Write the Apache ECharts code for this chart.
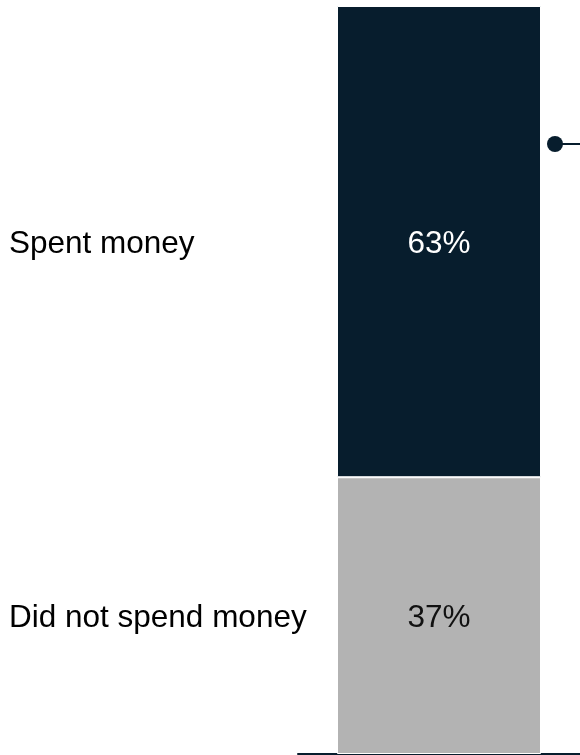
<!DOCTYPE html>
<html>
<head>
<meta charset="utf-8">
<script src="https://cdn.jsdelivr.net/npm/echarts@6/dist/echarts.min.js"></script>
<style>
  html, body { margin: 0; padding: 0; background: #fff; }
  #main { width: 580px; height: 755px; }
</style>
</head>
<body>
<div id="main"></div>
<script>
  // data
  const categories = ['Spent money', 'Did not spend money'];
  const shares = [63, 37];
  const colors = ['#071d2d', '#b3b3b3'];
  const textColors = ['#ffffff', '#111111'];

  let myChart = echarts.init(document.getElementById('main'));

  // one stacked bar, top segment first
  let series = categories.map(function (name, i) {
    return {
      name: name,
      type: 'bar',
      stack: 'total',
      barWidth: 204,
      data: [shares[i]],
      z: 2 - i,
      itemStyle: { color: colors[i], borderColor: '#fff', borderWidth: 1 },
      label: {
        show: true,
        position: [-328, '50%'],
        offset: [0, 3],
        verticalAlign: 'middle',
        align: 'left',
        formatter: function (p) {
          return '{n|' + p.seriesName + '}{v|' + p.value + '%}';
        },
        rich: {
          n: { width: 328, align: 'left', fontSize: 31.5, color: '#000', fontFamily: 'Liberation Sans' },
          v: { width: 204, align: 'center', fontSize: 31.5, color: textColors[i], fontFamily: 'Liberation Sans' }
        }
      }
    };
  });
  // stacking order: bottom segment goes first
  series.reverse();

  let option = {
    animation: false,
    grid: { left: 298, right: 0, top: 6, bottom: 1 },
    xAxis: {
      type: 'category',
      data: [''],
      axisLine: { show: true, lineStyle: { color: '#071d2d', width: 2 } },
      axisTick: { show: false },
      axisLabel: { show: false }
    },
    yAxis: { type: 'value', min: 0, max: 100, show: false },
    graphic: [
      { type: 'line', shape: { x1: 555, y1: 144, x2: 580, y2: 144 }, style: { stroke: '#071d2d', lineWidth: 2 } },
      { type: 'circle', shape: { cx: 555, cy: 144, r: 8 }, style: { fill: '#071d2d' } }
    ],
    series: series
  };
  myChart.setOption(option);
</script>
</body>
</html>
